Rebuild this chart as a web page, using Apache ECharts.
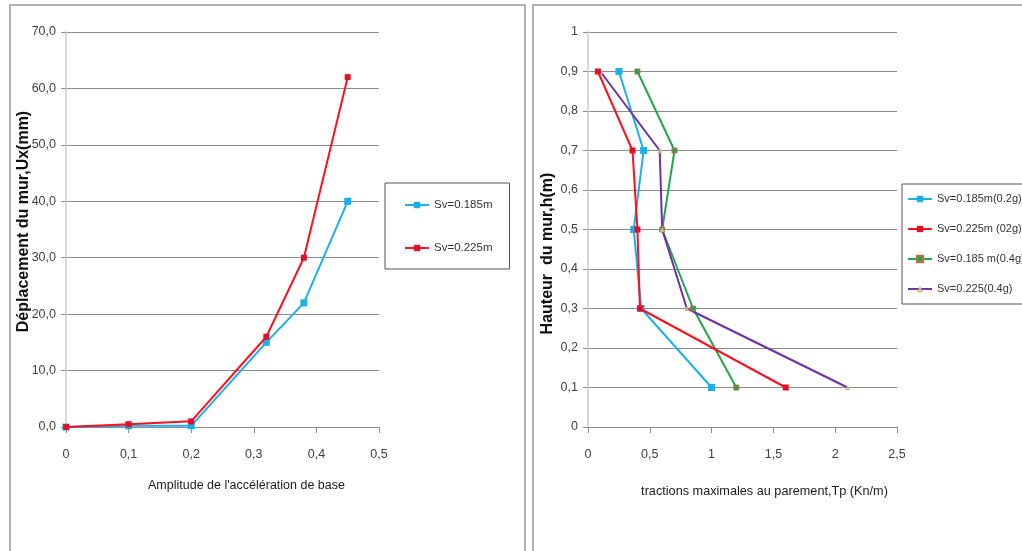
<!DOCTYPE html>
<html>
<head>
<meta charset="utf-8">
<script src="https://cdn.jsdelivr.net/npm/echarts@6/dist/echarts.min.js"></script>
<style>
html,body{margin:0;padding:0;background:#fff;}
#c{width:1022px;height:551px;}
</style>
</head>
<body>
<div id="c"></div>
<script>
// ---- Left chart data ----
var accel = [0, 0.1, 0.2, 0.32, 0.38, 0.45];
var dispSv185 = [0, 0.2, 0.2, 15, 22, 40];
var dispSv225 = [0, 0.5, 1, 16, 30, 62];
var leftNames = ['Sv=0.185m', 'Sv=0.225m'];

// ---- Right chart data ----
var heights = [0.9, 0.7, 0.5, 0.3, 0.1];
var tp185_02 = [0.25, 0.45, 0.37, 0.43, 1.0];
var tp225_02 = [0.08, 0.36, 0.40, 0.42, 1.6];
var tp185_04 = [0.40, 0.70, 0.60, 0.85, 1.2];
var tp225_04 = [0.10, 0.58, 0.60, 0.80, 2.1];
var rightNames = ['Sv=0.185m(0.2g)', 'Sv=0.225m (02g)', 'Sv=0.185 m(0.4g)', 'Sv=0.225(0.4g)'];

function pairs(xs, ys) { return xs.map(function (x, i) { return [x, ys[i]]; }); }
function pairsYX(hs, ts) { return hs.map(function (h, i) { return [ts[i], h]; }); }
function comma(v) { return String(v).replace('.', ','); }
function comma1(v) { return v.toFixed(1).replace('.', ','); }

var FONT = "'Liberation Sans', Arial, sans-serif";
var BLUE = '#1cb0ea', RED = '#ff0f1e', GREEN = '#1fa84a', PURPLE = '#7030a0';
var GRIDC = '#8c8c8c';

function xAxisCfg(gi, max, interval, name, padLeft, gap, nameSize) {
  return {
    type: 'value', gridIndex: gi, min: 0, max: max, interval: interval,
    name: name, nameLocation: 'middle', nameGap: gap,
    nameTextStyle: { fontFamily: FONT, fontSize: nameSize, color: '#1a1a1a', padding: [0, 0, 0, padLeft] },
    axisLine: { show: true, lineStyle: { color: GRIDC, width: 1 } },
    axisTick: { show: true, length: 6, lineStyle: { color: GRIDC } },
    axisLabel: { fontFamily: FONT, fontSize: 12.5, color: '#404040', margin: 21, formatter: comma },
    splitLine: { show: false }
  };
}
function yAxisCfg(gi, max, interval, name, pad, gap, fmt) {
  return {
    type: 'value', gridIndex: gi, min: 0, max: max, interval: interval,
    name: name, nameLocation: 'middle', nameGap: gap, nameRotate: 90, nameMoveOverlap: false,
    nameTextStyle: { fontFamily: FONT, fontWeight: 'bold', fontSize: 16, color: '#111', padding: pad },
    axisLine: { show: true, lineStyle: { color: '#d9d9d9', width: 2 } },
    axisTick: { show: true, length: 5, lineStyle: { color: GRIDC } },
    axisLabel: { fontFamily: FONT, fontSize: 12.5, color: '#404040', margin: 10, formatter: fmt },
    splitLine: { show: true, lineStyle: { color: GRIDC, width: 1 } }
  };
}

var chart = echarts.init(document.getElementById('c'), null, { renderer: 'canvas' });
chart.setOption({
  animation: false,
  backgroundColor: '#fff',
  graphic: [
    { type: 'rect', shape: { x: 10, y: 5, width: 515, height: 570 }, style: { fill: 'none', stroke: '#9a9a9a', lineWidth: 1.5 }, z: -1 },
    { type: 'rect', shape: { x: 533, y: 5, width: 520, height: 570 }, style: { fill: 'none', stroke: '#9a9a9a', lineWidth: 1.5 }, z: -1 }
  ],
  grid: [
    { left: 66, right: 1022 - 379, top: 32, bottom: 551 - 427 },
    { left: 588, right: 1022 - 897, top: 32, bottom: 551 - 427 }
  ],
  legend: [
    {
      data: leftNames, orient: 'vertical', left: 385, top: 183,
      padding: [15, 17, 14, 19], itemGap: 29, itemWidth: 24, itemHeight: 8,
      borderColor: '#555', borderWidth: 1,
      textStyle: { fontFamily: FONT, fontSize: 11.5, lineHeight: 14, color: '#333' }
    },
    {
      data: rightNames, orient: 'vertical', left: 902, top: 184,
      padding: [8, 10, 8, 5], itemGap: 16, itemWidth: 24, itemHeight: 8,
      borderColor: '#555', borderWidth: 1,
      textStyle: { fontFamily: FONT, fontSize: 11, lineHeight: 14, color: '#333' }
    }
  ],
  xAxis: [
    xAxisCfg(0, 0.5, 0.1, "Amplitude de l'accélération de base", 48, 52, 12.5),
    xAxisCfg(1, 2.5, 0.5, 'tractions maximales au parement,Tp (Kn/m)', 44, 58, 12.7)
  ],
  yAxis: [
    yAxisCfg(0, 70, 10, 'Déplacement du mur,Ux(mm)', [0, 0, 0, 16], 34, comma1),
    yAxisCfg(1, 1, 0.1, 'Hauteur  du mur,h(m)', [0, 48, 0, 0], 32, function (v) { return comma(+v.toFixed(1)); })
  ],
  series: [
    { name: leftNames[0], type: 'line', xAxisIndex: 0, yAxisIndex: 0, data: pairs(accel, dispSv185),
      symbol: 'rect', symbolSize: 7, lineStyle: { color: BLUE, width: 2 }, itemStyle: { color: BLUE }, z: 2 },
    { name: leftNames[1], type: 'line', xAxisIndex: 0, yAxisIndex: 0, data: pairs(accel, dispSv225),
      symbol: 'rect', symbolSize: 6, lineStyle: { color: RED, width: 2 }, itemStyle: { color: '#e0102a' }, z: 3 },

    { name: rightNames[0], type: 'line', xAxisIndex: 1, yAxisIndex: 1, data: pairsYX(heights, tp185_02),
      symbol: 'rect', symbolSize: 7, lineStyle: { color: BLUE, width: 2 }, itemStyle: { color: BLUE }, z: 2 },
    { name: rightNames[1], type: 'line', xAxisIndex: 1, yAxisIndex: 1, data: pairsYX(heights, tp225_02),
      symbol: 'rect', symbolSize: 6, lineStyle: { color: RED, width: 2 }, itemStyle: { color: '#e0102a' }, z: 3 },
    { name: rightNames[2], type: 'line', xAxisIndex: 1, yAxisIndex: 1, data: pairsYX(heights, tp185_04),
      symbol: 'rect', symbolSize: 5, lineStyle: { color: GREEN, width: 2 }, itemStyle: { color: GREEN, borderColor: '#c0704a', borderWidth: 1 }, z: 2 },
    { name: rightNames[3], type: 'line', xAxisIndex: 1, yAxisIndex: 1, data: pairsYX(heights, tp225_04),
      symbol: 'triangle', symbolSize: 5, lineStyle: { color: PURPLE, width: 2 }, itemStyle: { color: '#c8bb8e' }, z: 2 }
  ]
});
</script>
</body>
</html>
